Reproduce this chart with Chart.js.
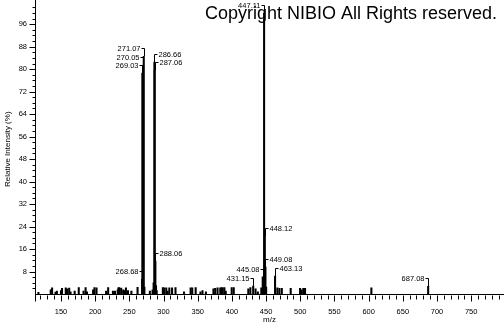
<!DOCTYPE html>
<html>
<head>
<meta charset="utf-8">
<script src="https://cdn.jsdelivr.net/npm/chart.js@4"></script>
<style>
html,body{margin:0;padding:0;background:#fff;}
#wrap{width:504px;height:325px;position:relative;}
</style>
</head>
<body>
<div id="wrap"><canvas id="c"></canvas></div>
<script>
// ---- data ----
const mzValues = [117,135,137,142,144,150,151.5,157,159,162,164,170,176,183,186,188,197,199,202,216,219,226,229,233,234,235,238,241,243,245,248,253,262,
  268.68,269.03,270.05,271.07,272,280,284,285.5,286.66,287.06,288.06,289,290,
  299,301,304,306,308.5,312.5,317.5,330,339.6,342,347,354,357,362,373,375.5,379,383,385,386.5,389,391,399.7,402.7,424,427,
  431.15,434.6,438,443,445.08,446.1,447.11,448.12,449.08,450.1,463.13,466.5,469.5,473,486,499.7,502,504.5,507,604,687.08];
const intensities = [0.6,1.5,2.2,0.7,1.0,1.2,2.0,2.2,1.8,2.1,0.8,1.0,2.3,1.0,2.3,0.8,1.5,2.3,2.2,1.0,2.3,1.0,1.0,1.5,2.2,2.3,2.1,1.5,1.2,2.2,1.2,1.0,2.4,
  5.3,78.6,81.4,84.6,2.5,1.0,1.5,4.0,82.5,79.6,11.7,3.0,1.2,
  2.3,2.2,2.2,1.0,2.2,2.2,2.3,0.8,2.2,2.2,2.3,0.8,1.2,0.8,1.8,2.0,2.2,2.2,2.3,2.2,2.3,1.0,2.3,2.3,1.8,2.3,
  2.8,1.8,0.8,2.2,6.1,4.5,100,20.5,9.6,2.5,6.4,2.2,2.0,2.0,2.0,2.0,1.5,2.0,2.0,2.2,2.7];
const peakLabels = ['268.68','269.03','270.05','271.07','286.66','287.06','288.06','431.15','445.08','447.11','448.12','449.08','463.13','687.08'];
const xTickLabels = [150,200,250,300,350,400,450,500,550,600,650,700,750];
const yTickLabels = [8,16,24,32,40,48,56,64,72,80,88,96];
const xRange = [112, 798];
const yRange = [0, 103];
const copyrightText = 'Copyright NIBIO All Rights reserved.';

const rightSide = new Set(['286.66','287.06','288.06','448.12','449.08','463.13']);
const FONT = "'Liberation Sans', Arial, sans-serif";

const peakLabelPlugin = {
  id: 'peakLabels',
  afterDatasetsDraw(chart) {
    const ctx = chart.ctx;
    const meta = chart.getDatasetMeta(0);
    ctx.save();
    ctx.strokeStyle = '#000';
    ctx.fillStyle = '#000';
    ctx.lineWidth = 1;
    ctx.font = '7.5px ' + FONT;
    ctx.textBaseline = 'middle';
    peakLabels.forEach(lbl => {
      const idx = mzValues.indexOf(parseFloat(lbl));
      if (idx < 0) return;
      const el = meta.data[idx];
      const x = Math.round(el.x) + 0.5;
      const yTop = el.y;
      const ly = Math.max(Math.round(yTop - 8), 5) + 0.5;
      ctx.beginPath();
      ctx.moveTo(x, ly);
      ctx.lineTo(x, yTop);
      if (rightSide.has(lbl)) {
        ctx.moveTo(x, ly); ctx.lineTo(x + 3, ly);
        ctx.stroke();
        ctx.textAlign = 'left';
        ctx.fillText(lbl, x + 4, ly);
      } else {
        ctx.moveTo(x - 3, ly); ctx.lineTo(x, ly);
        ctx.stroke();
        ctx.textAlign = 'right';
        ctx.fillText(lbl, x - 4, ly);
      }
    });
    ctx.restore();
  }
};

const axesPlugin = {
  id: 'axesDraw',
  afterDraw(chart) {
    const ctx = chart.ctx;
    const xs = chart.scales.x, ys = chart.scales.y;
    const a = chart.chartArea;
    ctx.save();
    ctx.strokeStyle = '#000';
    ctx.lineWidth = 1;
    ctx.beginPath();
    const ax = Math.round(a.left) + 0.5;
    const ay = Math.round(a.bottom) + 0.5;
    ctx.moveTo(ax, 0); ctx.lineTo(ax, ay + 7);
    ctx.moveTo(a.left, ay); ctx.lineTo(a.right, ay);
    for (let v = Math.ceil(xRange[0] / 10) * 10; v <= xRange[1]; v += 10) {
      const px = Math.round(xs.getPixelForValue(v)) + 0.5;
      const len = (v % 50 === 0) ? 6 : 4;
      ctx.moveTo(px, ay + 1); ctx.lineTo(px, ay + 1 + len);
    }
    for (let v = 2; v <= yRange[1]; v += 2) {
      const py = Math.round(ys.getPixelForValue(v)) + 0.5;
      const len = (v % 8 === 0) ? 6 : 3;
      ctx.moveTo(ax - len, py); ctx.lineTo(ax, py);
    }
    ctx.stroke();
    ctx.fillStyle = '#000';
    ctx.font = '18px ' + FONT;
    ctx.textAlign = 'right';
    ctx.textBaseline = 'alphabetic';
    ctx.fillText(copyrightText, 497, 19);
    ctx.restore();
  }
};

new Chart(document.getElementById('c'), {
  type: 'bar',
  data: {
    datasets: [{
      data: mzValues.map((m, i) => ({x: m, y: intensities[i]})),
      backgroundColor: '#000',
      borderWidth: 0,
      barThickness: 1.4
    }]
  },
  options: {
    responsive: true,
    maintainAspectRatio: false,
    animation: false,
    devicePixelRatio: 1,
    layout: {padding: 0},
    plugins: {legend: {display: false}, tooltip: {enabled: false}},
    scales: {
      x: {
        type: 'linear',
        min: xRange[0], max: xRange[1],
        offset: false,
        grid: {display: false, drawTicks: false, offset: false},
        border: {display: false},
        afterBuildTicks: (s) => { s.ticks = xTickLabels.map(v => ({value: v})); },
        afterFit: (s) => { s.height = 31; },
        ticks: {autoSkip: false, maxRotation: 0, padding: 13, color: '#000',
                font: {family: FONT, size: 7.5}},
        title: {display: true, text: 'm/z', color: '#000', padding: 0,
                font: {family: FONT, size: 8}}
      },
      y: {
        min: yRange[0], max: yRange[1],
        grid: {display: false, drawTicks: true, tickLength: 8, tickColor: 'rgba(0,0,0,0)'},
        border: {display: false},
        afterBuildTicks: (s) => { s.ticks = [0].concat(yTickLabels, [yRange[1]]).map(v => ({value: v})); },
        afterFit: (s) => { s.width = 35; },
        ticks: {autoSkip: false, padding: 0, color: '#000',
                font: {family: FONT, size: 7.5},
                callback: (v) => yTickLabels.includes(v) ? String(v) : null},
        title: {display: true, text: 'Relative Intensity (%)', color: '#000', padding: 3,
                font: {family: FONT, size: 8}}
      }
    }
  },
  plugins: [peakLabelPlugin, axesPlugin]
});
</script>
</body>
</html>
